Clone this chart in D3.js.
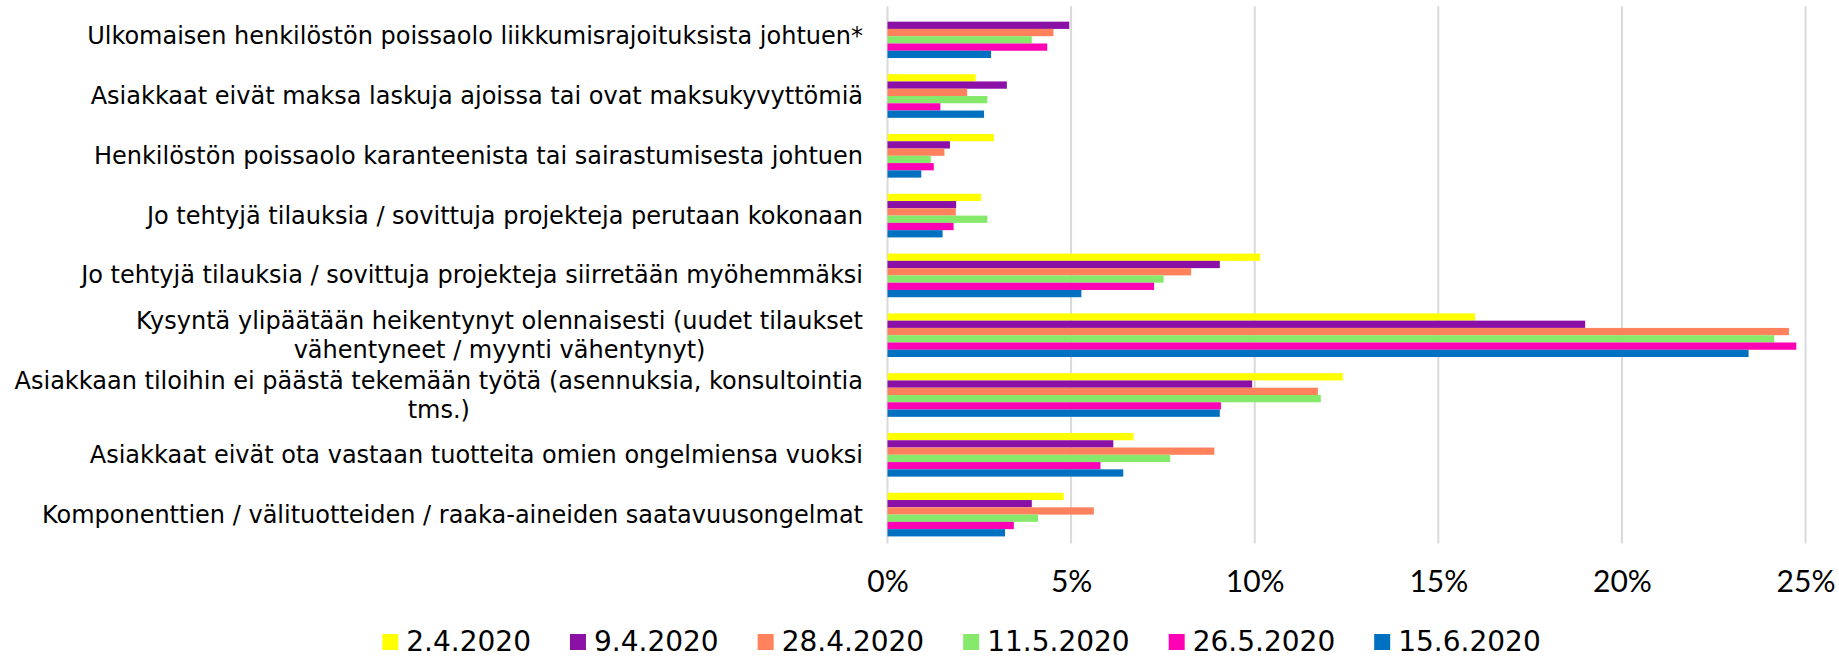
<!DOCTYPE html>
<html>
<head>
<meta charset="utf-8">
<script src="https://cdn.jsdelivr.net/npm/d3@7"></script>
<style>
  body { margin: 0; background: #ffffff; }
  svg { display: block; }
</style>
</head>
<body>
<svg id="chart" width="1839" height="658"></svg>
<script>
// kategoriat ylhäältä alas, rivinvaihto \n
const categories = [
  'Ulkomaisen henkilöstön poissaolo liikkumisrajoituksista johtuen*',
  'Asiakkaat eivät maksa laskuja ajoissa tai ovat maksukyvyttömiä',
  'Henkilöstön poissaolo karanteenista tai sairastumisesta johtuen',
  'Jo tehtyjä tilauksia / sovittuja projekteja perutaan kokonaan',
  'Jo tehtyjä tilauksia / sovittuja projekteja siirretään myöhemmäksi',
  'Kysyntä ylipäätään heikentynyt olennaisesti (uudet tilaukset\nvähentyneet / myynti vähentynyt)',
  'Asiakkaan tiloihin ei päästä tekemään työtä (asennuksia, konsultointia\ntms.)',
  'Asiakkaat eivät ota vastaan tuotteita omien ongelmiensa vuoksi',
  'Komponenttien / välituotteiden / raaka-aineiden saatavuusongelmat'
];

const surveyDates = ['2.4.2020', '9.4.2020', '28.4.2020', '11.5.2020', '26.5.2020', '15.6.2020'];

// osuudet prosentteina, samassa järjestyksessä kuin categories
const values2Apr = [null, 2.4, 2.9, 2.55, 10.15, 16.0, 12.4, 6.7, 4.8];
const values9Apr = [4.95, 3.25, 1.7, 1.87, 9.05, 19.0, 9.93, 6.15, 3.93];
const values28Apr = [4.52, 2.17, 1.55, 1.86, 8.27, 24.55, 11.72, 8.9, 5.62];
const values11May = [3.93, 2.72, 1.18, 2.72, 7.52, 24.15, 11.8, 7.7, 4.1];
const values26May = [4.35, 1.44, 1.26, 1.8, 7.26, 24.75, 9.08, 5.8, 3.44];
const values15Jun = [2.82, 2.63, 0.92, 1.5, 5.28, 23.45, 9.05, 6.42, 3.2];

const percentTicks = [0, 5, 10, 15, 20, 25];

const seriesValues = [values2Apr, values9Apr, values28Apr, values11May, values26May, values15Jun];
const seriesColors = ['#ffff00', '#8a10a6', '#ff825c', '#87e96b', '#ff00b4', '#0070c0'];

function renderChart() {
  const svg = d3.select('#chart');
  const plot = { left: 887.5, right: 1805.5, top: 6.3, bottom: 544.5 };
  const labelRight = 863;

  const x = d3.scaleLinear().domain([0, 25]).range([plot.left, plot.right]);

  const y = d3
    .scaleBand()
    .domain(categories)
    .range([plot.top, plot.bottom])
    .paddingInner(0.27)
    .paddingOuter(0.135);

  const ySub = d3
    .scaleBand()
    .domain(surveyDates)
    .range([0, y.bandwidth()])
    .padding(0);

  // pystysuorat ruudukkoviivat
  svg
    .append('g')
    .selectAll('line')
    .data(percentTicks)
    .join('line')
    .attr('x1', (d) => x(d))
    .attr('x2', (d) => x(d))
    .attr('y1', plot.top)
    .attr('y2', plot.bottom - 1)
    .attr('stroke', '#d9d9d9')
    .attr('stroke-width', 2);

  // palkit
  const groups = svg
    .append('g')
    .selectAll('g')
    .data(surveyDates)
    .join('g')
    .attr('fill', (_, i) => seriesColors[i]);

  groups
    .selectAll('rect')
    .data((date, i) =>
      categories.map((cat, j) => ({ cat, date, value: seriesValues[i][j] })).filter((d) => d.value != null)
    )
    .join('rect')
    .attr('x', x(0))
    .attr('y', (d) => y(d.cat) + ySub(d.date))
    .attr('width', (d) => x(d.value) - x(0))
    .attr('height', ySub.bandwidth());

  // x-akselin tekstit
  const xAxis = svg
    .append('g')
    .attr('transform', `translate(0, 592)`)
    .call(d3.axisBottom(x).tickValues(percentTicks).tickFormat((d) => `${d}%`).tickSize(0));

  xAxis.select('.domain').remove();
  xAxis
    .selectAll('text')
    .attr('dy', 0)
    .attr('y', 0)
    .attr('fill', '#000000')
    .attr('font-family', 'Lato, "Liberation Sans", sans-serif')
    .attr('font-size', 30);

  // kategoriatekstit, monirivisinä keskitetty
  const labels = svg
    .append('g')
    .attr('font-family', '"DejaVu Sans", Verdana, sans-serif')
    .attr('font-size', 24)
    .attr('fill', '#000000');

  const lineHeight = 29;
  categories.forEach((cat) => {
    const lines = cat.split('\n');
    const text = labels.append('text').attr('dominant-baseline', 'central');
    const spans = lines.map((line, k) =>
      text
        .append('tspan')
        .attr('y', y(cat) + y.bandwidth() / 2 + (k - (lines.length - 1) / 2) * lineHeight)
        .text(line)
    );
    const widest = d3.max(spans, (s) => s.node().getComputedTextLength());
    text.attr('text-anchor', 'middle');
    spans.forEach((s) => s.attr('x', labelRight - widest / 2));
  });

  // selite
  const legend = svg
    .append('g')
    .attr('font-family', '"DejaVu Sans", Verdana, sans-serif')
    .attr('font-size', 28)
    .attr('fill', '#000000');

  let cursor = 0;
  surveyDates.forEach((date, i) => {
    const item = legend.append('g').attr('transform', `translate(${cursor}, 0)`);
    item
      .append('rect')
      .attr('x', 0)
      .attr('y', 634)
      .attr('width', 16)
      .attr('height', 16)
      .attr('fill', seriesColors[i]);
    const label = item.append('text').attr('x', 24).attr('y', 651).text(date);
    cursor += 24 + label.node().getComputedTextLength() + 39;
  });
  const legendWidth = cursor - 39;
  legend.attr('transform', `translate(${961.5 - legendWidth / 2}, 0)`);
}

renderChart();
</script>
</body>
</html>
